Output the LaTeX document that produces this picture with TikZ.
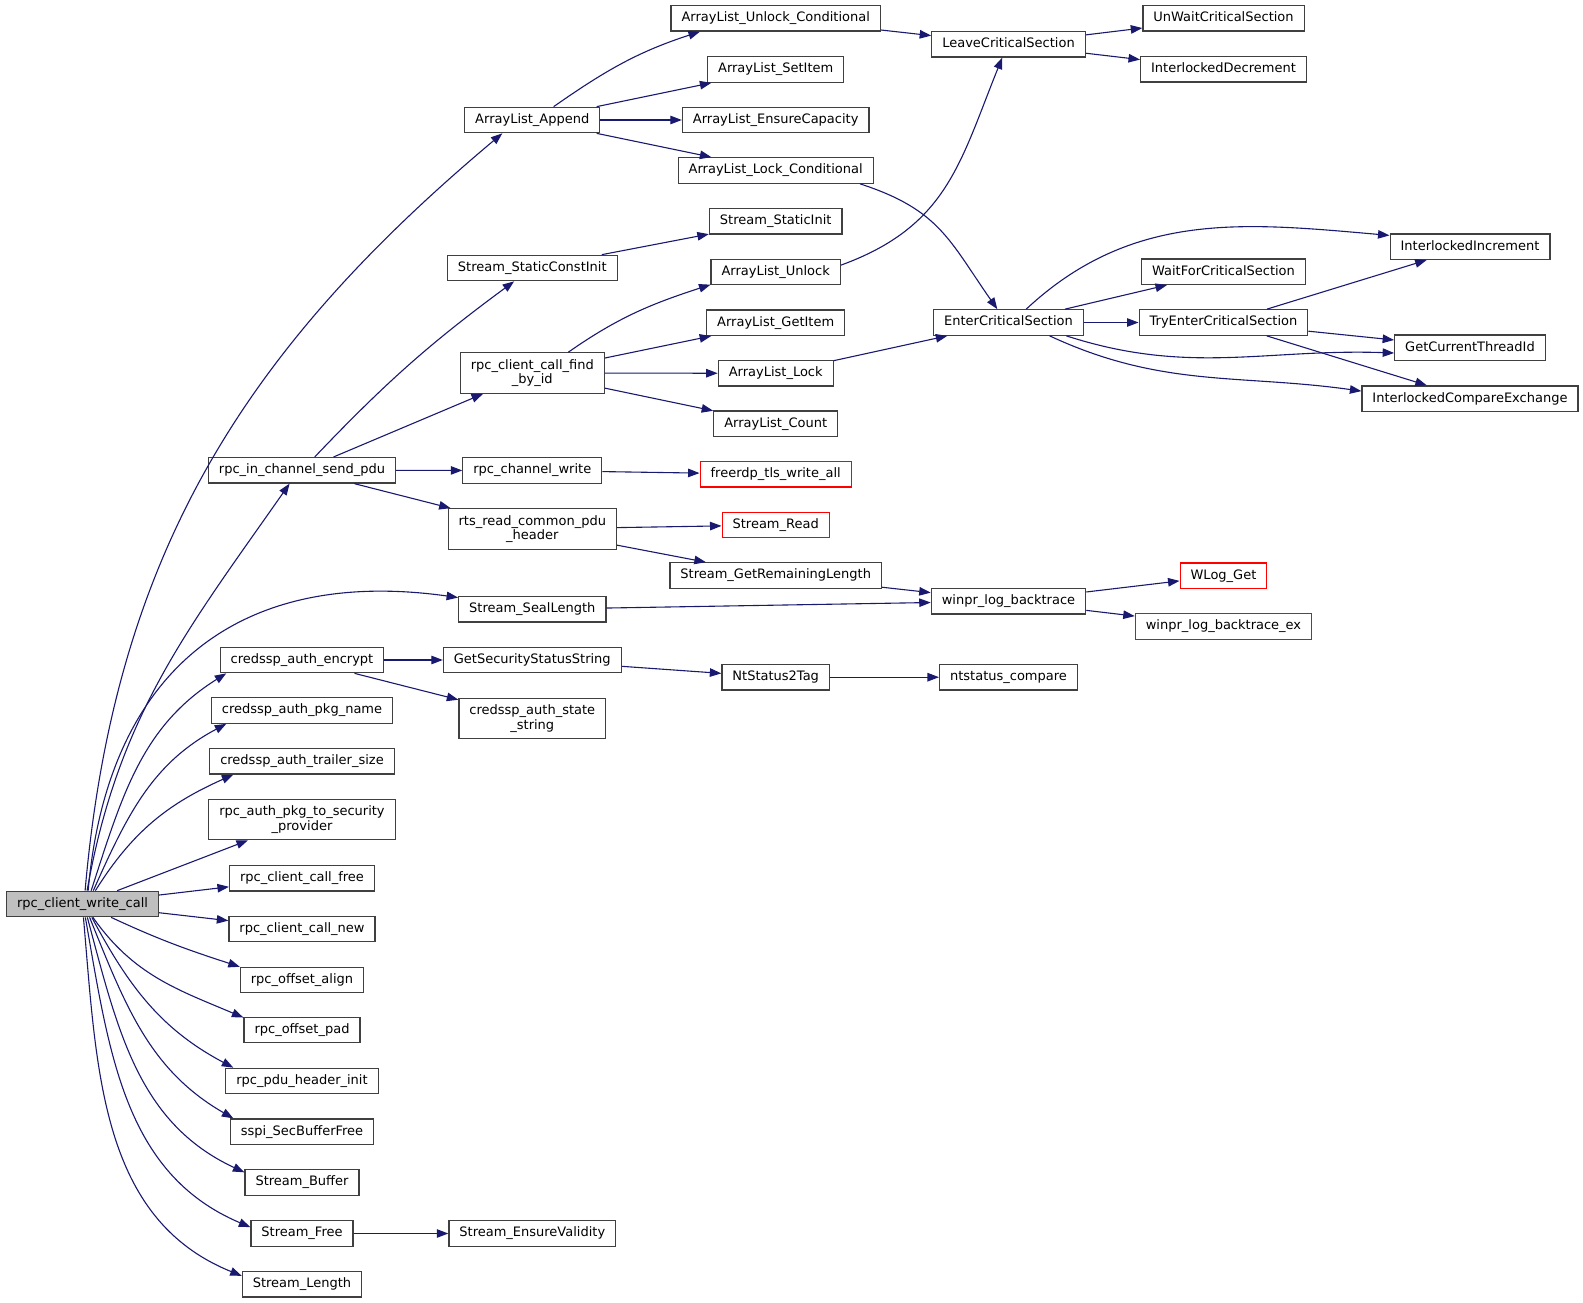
\documentclass[tikz,border=0pt]{standalone}
\usepackage{fontspec}
\setmainfont{DejaVu Sans}
\usetikzlibrary{arrows.meta}
\definecolor{edgeblue}{HTML}{191970}
\definecolor{boxline}{HTML}{404040}
\definecolor{rootgray}{HTML}{BFBFBF}
\begin{document}
\begin{tikzpicture}[x=1pt,y=1pt,
  fnbase/.style={draw=boxline,fill=white,line width=1.2pt,inner xsep=10.5pt,font=\fontsize{13}{14.5}\selectfont},
  fn/.style={fnbase,inner ysep=0pt,minimum height=25.5pt,text height=9.9pt,text depth=3.1pt},
  fntwo/.style={fnbase,inner ysep=6.5pt,align=center},
  ext/.style={fn,draw=red},
  call/.style={->,>={Triangle[length=11.5pt,width=8.5pt]},draw=edgeblue,line width=1.1pt}]
\useasboundingbox (0,0) rectangle (1583,-1303);
% caller
\node[fn,fill=rootgray] (N0) at (82.5,-904) {rpc\_client\_write\_call};
% first level
\node[fn] (A1) at (302,-470.3) {rpc\_in\_channel\_send\_pdu};
\node[fn] (A2) at (302,-660) {credssp\_auth\_encrypt};
\node[fn] (A3) at (302,-710.5) {credssp\_auth\_pkg\_name};
\node[fn] (A4) at (302,-761.3) {credssp\_auth\_trailer\_size};
\node[fntwo] (A5) at (302,-819.5) {rpc\_auth\_pkg\_to\_security\\\_provider};
\node[fn] (A6) at (302,-878.3) {rpc\_client\_call\_free};
\node[fn] (A7) at (302,-929) {rpc\_client\_call\_new};
\node[fn] (A8) at (302,-980) {rpc\_offset\_align};
\node[fn] (A9) at (302,-1030) {rpc\_offset\_pad};
\node[fn] (A10) at (302,-1081) {rpc\_pdu\_header\_init};
\node[fn] (A11) at (302,-1131.7) {sspi\_SecBufferFree};
\node[fn] (A12) at (302,-1182.5) {Stream\_Buffer};
\node[fn] (A13) at (302,-1233.5) {Stream\_Free};
\node[fn] (A14) at (302,-1284.3) {Stream\_Length};
% second level
\node[fn] (B1) at (532.3,-120) {ArrayList\_Append};
\node[fn] (B2) at (532.3,-268) {Stream\_StaticConstInit};
\node[fntwo] (B3) at (532.3,-373) {rpc\_client\_call\_find\\\_by\_id};
\node[fn] (B4) at (532.3,-470.5) {rpc\_channel\_write};
\node[fntwo] (B5) at (532.3,-529) {rts\_read\_common\_pdu\\\_header};
\node[fn] (B6) at (532.3,-609.3) {Stream\_SealLength};
\node[fn] (B7) at (532.3,-660) {GetSecurityStatusString};
\node[fntwo] (B8) at (532.3,-718.5) {credssp\_auth\_state\\\_string};
\node[fn] (B9) at (532.3,-1233.5) {Stream\_EnsureValidity};
% third level
\node[fn] (C1) at (775.7,-18.3) {ArrayList\_Unlock\_Conditional};
\node[fn] (C2) at (775.7,-69.5) {ArrayList\_SetItem};
\node[fn] (C3) at (775.7,-120) {ArrayList\_EnsureCapacity};
\node[fn] (C4) at (775.7,-170.5) {ArrayList\_Lock\_Conditional};
\node[fn] (C5) at (775.7,-221.3) {Stream\_StaticInit};
\node[fn] (C6) at (775.7,-272) {ArrayList\_Unlock};
\node[fn] (C7) at (775.7,-322.7) {ArrayList\_GetItem};
\node[fn] (C8) at (775.7,-373.3) {ArrayList\_Lock};
\node[fn] (C9) at (775.7,-423.8) {ArrayList\_Count};
\node[ext] (C10) at (775.7,-474.3) {freerdp\_tls\_write\_all};
\node[ext] (C11) at (775.7,-525) {Stream\_Read};
\node[fn] (C12) at (775.7,-575.5) {Stream\_GetRemainingLength};
\node[fn] (C13) at (775.7,-677.2) {NtStatus2Tag};
% fourth level
\node[fn] (D1) at (1008.5,-44.2) {LeaveCriticalSection};
\node[fn] (D2) at (1008.5,-322.5) {EnterCriticalSection};
\node[fn] (D3) at (1008.5,-601.2) {winpr\_log\_backtrace};
\node[fn] (D4) at (1008.5,-677.2) {ntstatus\_compare};
% fifth level
\node[fn] (E1) at (1223.5,-18.3) {UnWaitCriticalSection};
\node[fn] (E2) at (1223.5,-69.3) {InterlockedDecrement};
\node[fn] (E3) at (1223.5,-271.7) {WaitForCriticalSection};
\node[fn] (E4) at (1223.5,-322.5) {TryEnterCriticalSection};
\node[ext] (E5) at (1223.5,-575.7) {WLog\_Get};
\node[ext] (E6) at (1223.5,-626.5) {winpr\_log\_backtrace\_ex};
% sixth level
\node[fn] (F1) at (1470,-246.7) {InterlockedIncrement};
\node[fn] (F2) at (1470,-347.7) {GetCurrentThreadId};
\node[fn] (F3) at (1470,-398.7) {InterlockedCompareExchange};
% calls of rpc_client_write_call
\draw[call] (N0.79) to[out=85,in=-140] (B1.-156);
\draw[call] (N0.71) to[out=80,in=-125] (A1.-133);
\draw[call] (N0.67) to[out=85,in=172,looseness=1.2] (B6.171);
\draw[call] (N0.57) to[out=72,in=-148] (A2.-170);
\draw[call] (N0.51) to[out=66,in=-152] (A3.-170);
\draw[call] (N0.46) to[out=58,in=-156] (A4.-169);
\draw[call] (N0) -- (A5);
\draw[call] (N0) -- (A6);
\draw[call] (N0) -- (A7);
\draw[call] (N0.-25) to[out=-25,in=162] (A8.168);
\draw[call] (N0.-52) to[out=-55,in=157] (A9.168);
\draw[call] (N0.-55) to[out=-62,in=152] (A10.169);
\draw[call] (N0.-62) to[out=-68,in=150] (A11.169);
\draw[call] (N0.-70) to[out=-75,in=155] (A12.170);
\draw[call] (N0.-78) to[out=-80,in=157] (A13.173);
\draw[call] (N0.-86) to[out=-85,in=158] (A14.172);
% deeper calls
\draw[call] (B1.32) to[out=35,in=-162] (C1.-170);
\draw[call] (B1) -- (C2);
\draw[call] (B1) -- (C3);
\draw[call] (B1) -- (C4);
\draw[call] (C1) -- (D1);
\draw[call] (C4.-9) to[out=-18,in=125,looseness=1.15] (D2.130);
\draw[call] (D1) -- (E1);
\draw[call] (D1) -- (E2);
\draw[call] (A1) to[bend left=5] (B2);
\draw[call] (A1) -- (B3);
\draw[call] (A1) -- (B4);
\draw[call] (A1) -- (B5);
\draw[call] (B2) -- (C5);
\draw[call] (B3.30) to[out=35,in=-162] (C6.-169);
\draw[call] (B3) -- (C7);
\draw[call] (B3) -- (C8);
\draw[call] (B3) -- (C9);
\draw[call] (C6.6) to[out=20,in=-112,looseness=1.1] (D1.-115);
\draw[call] (C8) -- (D2);
\draw[call] (D2.37) to[out=43,in=175] (F1.172);
\draw[call] (D2) -- (E3);
\draw[call] (D2) -- (E4);
\draw[call] (D2.-13) to[out=-18,in=178] (F2.-176);
\draw[call] (D2.-18) to[out=-25,in=172] (F3.176);
\draw[call] (E4) -- (F1);
\draw[call] (E4) -- (F2);
\draw[call] (E4) -- (F3);
\draw[call] (B4) -- (C10);
\draw[call] (B5) -- (C11);
\draw[call] (B5) -- (C12);
\draw[call] (C12) -- (D3);
\draw[call] (B6) -- (D3);
\draw[call] (D3) -- (E5);
\draw[call] (D3) -- (E6);
\draw[call] (A2) -- (B7);
\draw[call] (A2) -- (B8);
\draw[call] (B7) -- (C13);
\draw[call] (C13) -- (D4);
\draw[call] (A13) -- (B9);
\end{tikzpicture}
\end{document}
